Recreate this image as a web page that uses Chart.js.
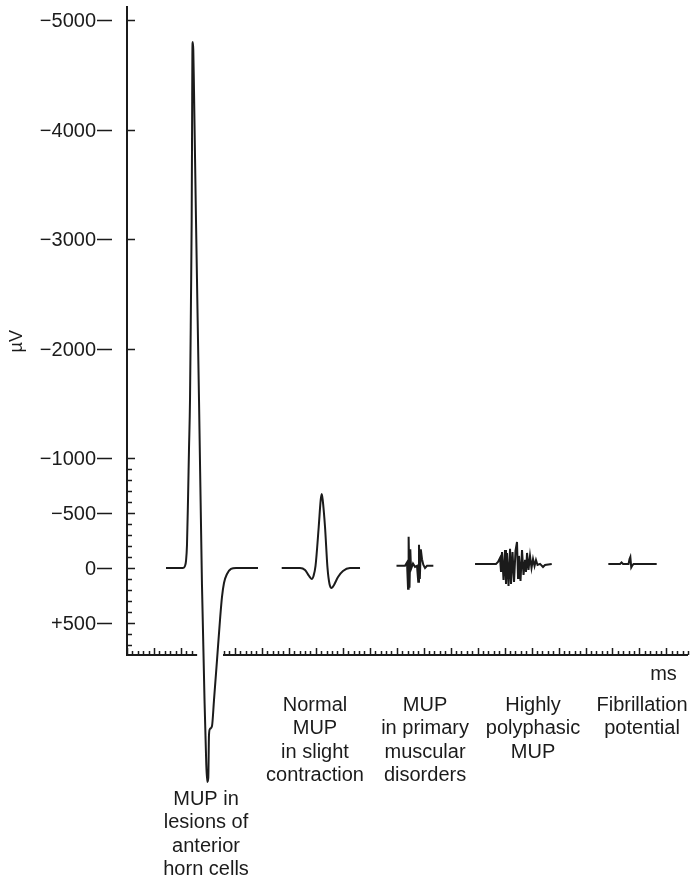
<!DOCTYPE html>
<html>
<head>
<meta charset="utf-8">
<script src="https://cdn.jsdelivr.net/npm/chart.js@4"></script>
<style>
  html, body { margin: 0; padding: 0; background: #fff; }
  canvas { display: block; }
</style>
</head>
<body>
<canvas id="mupChart" width="694" height="882"></canvas>
<script>
// Motor unit potentials (MUP), amplitude in µV (negative is up), time in ms

// MUP in lesions of anterior horn cells
const hornMs = [7.23, 10.38, 10.75, 10.94, 11.12, 11.31, 11.49, 11.68, 11.86, 11.99, 12.07, 12.12, 12.18, 12.29, 12.42, 12.79, 13.35, 13.90, 14.37, 14.70, 14.88, 15.07, 15.20, 15.39, 15.76, 16.13, 16.69, 17.24, 17.61, 17.98, 18.54, 19.28, 20.21, 24.29];
const hornUv = [0, 0, -18, -64, -210, -621, -1078, -1534, -2447, -3178, -4091, -4685, -4803, -4730, -4365, -3178, -1534, 155, 1205, 1799, 1954, 1918, 1525, 1470, 1443, 1205, 840, 475, 265, 137, 55, 9, 0, 0];

// Normal MUP in slight contraction
const normalMs = [28.68, 32.07, 33.0, 33.74, 34.24, 34.58, 34.95, 35.54, 35.91, 36.10, 36.28, 36.71, 37.17, 37.54, 37.95, 38.38, 39.12, 40.04, 41.34, 43.20];
const normalUv = [0, 0, 18, 73, 100, 73, -18, -374, -621, -676, -621, -374, 0, 146, 183, 155, 82, 27, 0, 0];

// MUP in primary muscular disorders
const myopathyMs = [49.96, 51.54, 51.91, 52.10, 52.21, 52.37, 52.52, 52.65, 53.02, 53.39, 53.76, 53.99, 54.13, 54.28, 54.47, 54.69, 54.93, 55.25, 55.62, 56.79];
const myopathyUv = [-20, -20, -50, 190, -285, 180, -170, 10, -40, -10, -20, 126, -212, 100, -170, -80, -30, 0, -20, -20];

// Highly polyphasic MUP
const polyMs = [64.52, 68.41, 68.78, 69.15, 69.34, 69.52, 69.80, 70.08, 70.26, 70.45, 70.73, 71.01, 71.19, 71.47, 71.75, 72.02, 72.30, 72.49, 72.67, 72.95, 73.23, 73.51, 73.79, 73.97, 74.16, 74.43, 74.71, 74.99, 75.27, 75.55, 75.82, 76.10, 76.57, 77.12, 77.49, 78.74];
const polyUv = [-37, -37, -55, -91, 37, -146, 110, -164, 146, -137, 164, -174, 146, -146, 128, -155, -237, 91, -110, 119, -164, 64, -73, 37, -137, 18, -110, 0, -82, -18, -73, -27, -37, -9, -27, -37];

// Fibrillation potential
const fibMs = [89.23, 91.40, 91.68, 91.96, 92.98, 93.16, 93.31, 93.48, 93.62, 93.90, 98.20];
const fibUv = [-37, -37, -50, -37, -37, -82, -100, -5, -18, -37, -37];

// axis ticks
const yTickValues = [-5000, -4000, -3000, -2000, -1000, -500, 0, 500];
const yMinorStart = -1000;
const yMinorEnd = 700;
const yMinorStep = 100;

// captions under the traces, anchored at these times (ms)
const captionLines = [
  ['MUP in', 'lesions of', 'anterior', 'horn cells'],
  ['Normal', 'MUP', 'in slight', 'contraction'],
  ['MUP', 'in primary', 'muscular', 'disorders'],
  ['Highly', 'polyphasic', 'MUP'],
  ['Fibrillation', 'potential']
];
const captionMs = [14.65, 34.85, 55.25, 75.27, 95.48];

const FONT = '"Liberation Sans", Arial, Helvetica, sans-serif';
const INK = '#1b1b1b';

function toPoints(xs, ys) {
  return xs.map((x, i) => ({ x: x, y: ys[i] }));
}

function traceDataset(label, xs, ys, smooth) {
  return {
    label: label,
    data: toPoints(xs, ys),
    borderColor: INK,
    borderWidth: 2,
    pointRadius: 0,
    tension: smooth ? 0.4 : 0,
    cubicInterpolationMode: smooth ? 'monotone' : 'default',
    fill: false,
    clip: false
  };
}

function formatUv(v) {
  if (v < 0) return '\u2212' + (-v);
  if (v > 0) return '+' + v;
  return '0';
}

// Draws the axes, ticks and all the texts
const axisDecor = {
  id: 'axisDecor',
  afterDatasetsDraw(chart) {
    const { ctx, chartArea, scales } = chart;
    const x = scales.x;
    const y = scales.y;
    const left = chartArea.left;
    const bottom = chartArea.bottom;

    ctx.save();
    ctx.strokeStyle = INK;
    ctx.fillStyle = INK;
    ctx.lineCap = 'butt';

    // y axis line
    ctx.lineWidth = 2;
    ctx.beginPath();
    ctx.moveTo(left, chartArea.top);
    ctx.lineTo(left, bottom + 1);
    ctx.stroke();

    // major y ticks, dashes and labels
    ctx.font = '20px ' + FONT;
    ctx.textAlign = 'right';
    ctx.textBaseline = 'middle';
    yTickValues.forEach(v => {
      const py = Math.round(y.getPixelForValue(v)) + 0.5;
      ctx.lineWidth = 1.6;
      ctx.beginPath();
      ctx.moveTo(left, py);
      ctx.lineTo(left + 8, py);
      ctx.moveTo(left - 30, py);
      ctx.lineTo(left - 15, py);
      ctx.stroke();
      ctx.fillText(formatUv(v), left - 31, py + 1);
    });

    // minor y ticks
    ctx.lineWidth = 1.5;
    for (let v = yMinorStart; v <= yMinorEnd; v += yMinorStep) {
      if (yTickValues.includes(v)) continue;
      const py = Math.round(y.getPixelForValue(v)) + 0.5;
      ctx.beginPath();
      ctx.moveTo(left, py);
      ctx.lineTo(left + 5, py);
      ctx.stroke();
    }

    // x axis, broken where the large potential crosses it
    const gapFrom = x.getPixelForValue(13.0);
    const gapTo = x.getPixelForValue(17.8);
    ctx.lineWidth = 2;
    ctx.beginPath();
    ctx.moveTo(left, bottom);
    ctx.lineTo(gapFrom, bottom);
    ctx.moveTo(gapTo, bottom);
    ctx.lineTo(chartArea.right, bottom);
    ctx.stroke();

    // ms ticks
    ctx.lineWidth = 1.5;
    for (let t = 0; t <= x.max; t++) {
      const px = Math.round(x.getPixelForValue(t)) + 0.5;
      if (px > gapFrom - 1 && px < gapTo + 1) continue;
      const h = t % 5 === 0 ? 7 : 4;
      ctx.beginPath();
      ctx.moveTo(px, bottom);
      ctx.lineTo(px, bottom - h);
      ctx.stroke();
    }

    // unit labels
    ctx.textAlign = 'center';
    ctx.textBaseline = 'alphabetic';
    ctx.font = '20px ' + FONT;
    ctx.fillText('ms', x.getPixelForValue(99.46), 680);

    ctx.save();
    ctx.translate(22, y.getPixelForValue(-2070));
    ctx.rotate(-Math.PI / 2);
    ctx.font = '18px ' + FONT;
    ctx.fillText('\u00b5V', 0, 0);
    ctx.restore();

    // captions
    captionLines.forEach((lines, i) => {
      const cx = x.getPixelForValue(captionMs[i]);
      const top = i === 0 ? 805 : 711;
      lines.forEach((line, j) => {
        ctx.fillText(line, cx, top + j * 23.4);
      });
    });

    ctx.restore();
  }
};

new Chart(document.getElementById('mupChart'), {
  type: 'line',
  data: {
    datasets: [
      traceDataset('MUP in lesions of anterior horn cells', hornMs, hornUv, true),
      traceDataset('Normal MUP in slight contraction', normalMs, normalUv, true),
      traceDataset('MUP in primary muscular disorders', myopathyMs, myopathyUv, false),
      traceDataset('Highly polyphasic MUP', polyMs, polyUv, false),
      traceDataset('Fibrillation potential', fibMs, fibUv, false)
    ]
  },
  options: {
    responsive: false,
    animation: false,
    layout: {
      padding: { left: 127, top: 6, right: 6, bottom: 227 }
    },
    scales: {
      x: {
        type: 'linear',
        min: 0,
        max: 104,
        display: false
      },
      y: {
        type: 'linear',
        min: -5132,
        max: 795,
        reverse: true,
        display: false
      }
    },
    plugins: {
      legend: { display: false },
      tooltip: { enabled: false }
    }
  },
  plugins: [axisDecor]
});
</script>
</body>
</html>
